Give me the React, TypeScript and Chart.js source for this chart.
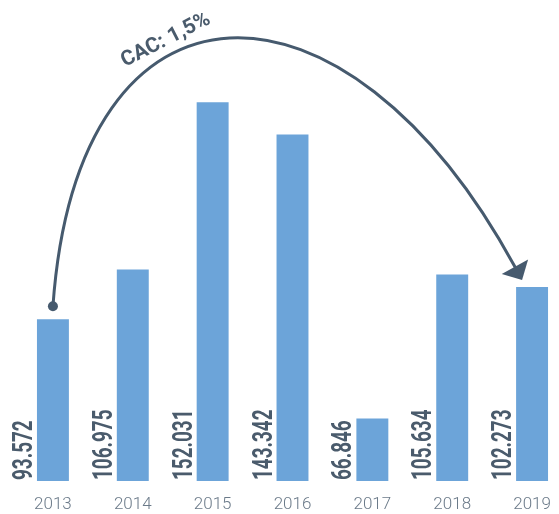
import React, { useEffect, useRef } from 'react';
import { Chart, registerables } from 'chart.js';

Chart.register(...registerables);

const years = ['2013', '2014', '2015', '2016', '2017', '2018', '2019'];
const values = [93.572, 106.975, 152.031, 143.342, 66.846, 105.634, 102.273];
const valueLabels = ['93.572', '106.975', '152.031', '143.342', '66.846', '105.634', '102.273'];
const annotationText = 'CAC: 1,5%';

const BAR = '#6ca4d9';
const DARK = '#465a6e';
const LABEL = '#4a5b6c';
const TICK = '#6b7a89';

const overlay = {
  id: 'overlay',
  afterDatasetsDraw(chart: any) {
    const ctx = chart.ctx as CanvasRenderingContext2D;
    const meta = chart.getDatasetMeta(0);
    const bottom = chart.chartArea.bottom;
    const pts = meta.data.map((el: any) => el.getProps(['x', 'y', 'width'], true));

    // value labels, rotated, left of each bar
    pts.forEach((p: any, i: number) => {
      const left = p.x - p.width / 2;
      ctx.save();
      ctx.translate(left - 5, bottom - 1);
      ctx.rotate(-Math.PI / 2);
      ctx.scale(0.7, 1);
      ctx.font = 'bold 27px Roboto';
      ctx.fillStyle = LABEL;
      ctx.textAlign = 'left';
      ctx.textBaseline = 'alphabetic';
      ctx.fillText(valueLabels[i], 0, 0);
      ctx.restore();
    });

    // arc annotation from first to last bar
    const first = pts[0];
    const last = pts[pts.length - 1];
    const x0 = first.x;
    const y0 = first.y - 13;
    const tipX = last.x - 10;
    const tipY = last.y - 7;
    const dx = 0.477, dy = 0.879;
    const ex = tipX - 15 * dx;
    const ey = tipY - 15 * dy;
    const p1x = x0 + 25, p1y = y0 - 351;
    const p2x = ex - 170, p2y = ey - 312;

    ctx.save();
    ctx.strokeStyle = DARK;
    ctx.fillStyle = DARK;
    ctx.lineWidth = 3;
    ctx.lineCap = 'round';
    ctx.beginPath();
    ctx.moveTo(x0, y0);
    ctx.bezierCurveTo(p1x, p1y, p2x, p2y, ex, ey);
    ctx.stroke();

    ctx.beginPath();
    ctx.arc(x0, y0, 5, 0, Math.PI * 2);
    ctx.fill();

    const nx = -dy, ny = dx;
    ctx.beginPath();
    ctx.moveTo(tipX, tipY);
    ctx.lineTo(ex + 15 * nx, ey + 15 * ny);
    ctx.lineTo(ex - 15 * nx, ey - 15 * ny);
    ctx.closePath();
    ctx.fill();

    ctx.translate(x0 + 113, y0 - 266);
    ctx.rotate((-27 * Math.PI) / 180);
    ctx.font = 'bold 21px Roboto';
    ctx.fillStyle = LABEL;
    ctx.textAlign = 'center';
    ctx.textBaseline = 'middle';
    ctx.fillText(annotationText, 0, 0);
    ctx.restore();
  },
};

export default function App() {
  const ref = useRef<HTMLCanvasElement | null>(null);
  useEffect(() => {
    if (!ref.current) return;
    const chart = new Chart(ref.current, {
      type: 'bar',
      data: {
        labels: years,
        datasets: [
          {
            data: values,
            backgroundColor: BAR,
            borderWidth: 0,
            barPercentage: 0.4,
            categoryPercentage: 1,
          },
        ],
      },
      options: {
        responsive: true,
        maintainAspectRatio: false,
        animation: false,
        layout: { padding: { left: 13, right: 0, top: 17, bottom: 0.6 } },
        plugins: { legend: { display: false }, tooltip: { enabled: false } },
        scales: {
          x: {
            grid: { display: false, drawTicks: false },
            border: { display: false },
            ticks: {
              color: TICK,
              padding: 14,
              font: { family: 'Roboto', size: 17, weight: 300 as any },
            },
          },
          y: {
            display: false,
            min: 50,
            max: 175,
          },
        },
      },
      plugins: [overlay],
    });
    return () => chart.destroy();
  }, []);
  return (
    <div style={{ position: 'fixed', left: 0, top: 0, width: 559, height: 514, overflow: 'hidden', background: '#fff' }}>
      <div style={{ position: 'relative', width: 572, height: 530 }}>
        <canvas ref={ref} />
      </div>
    </div>
  );
}
